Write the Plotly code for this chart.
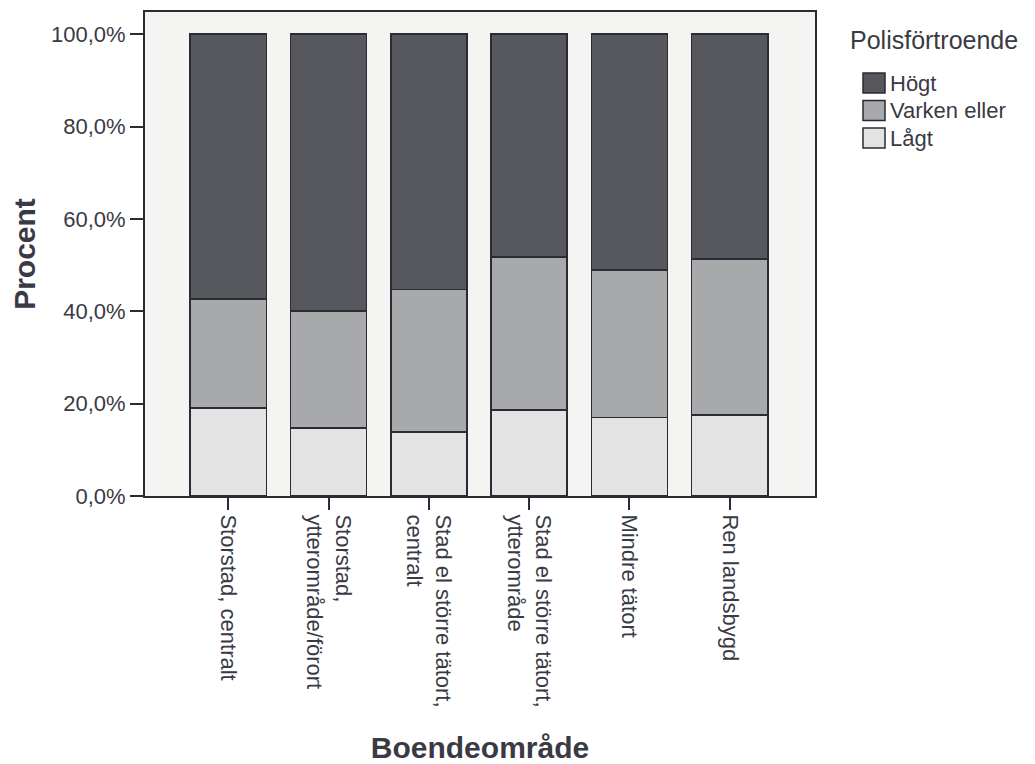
import plotly.graph_objects as go

categories = [
    "Storstad, centralt",
    "Storstad,<br>ytterområde/förort",
    "Stad el större tätort,<br>centralt",
    "Stad el större tätort,<br>ytterområde",
    "Mindre tätort",
    "Ren landsbygd"
]

series_names = ["Lågt", "Varken eller", "Högt"]

lagt = [19.0, 14.7, 13.8, 18.6, 17.0, 17.5]
varken = [23.7, 25.3, 30.9, 33.1, 32.0, 33.8]
hogt = [57.3, 60.0, 55.3, 48.3, 51.0, 48.7]

y_ticks = [0, 20, 40, 60, 80, 100]
y_tick_labels = ["0,0%", "20,0%", "40,0%", "60,0%", "80,0%", "100,0%"]

colors = ["#e3e3e3", "#a8a9aa", "#56585d"]
outline = "#2b2b35"
text_color = "#3a3a44"
font_family = "Liberation Sans, Arial, sans-serif"

# the page body adds an 8px margin, so the figure is made that much smaller
offset = 8
fig_w, fig_h = 1035 - offset, 764 - offset
left, top, width, height = 145 - offset, 12 - offset, 670, 484

fig = go.Figure()

for name, values, color in zip(series_names, [lagt, varken, hogt], colors):
    fig.add_trace(
        go.Bar(
            x=categories,
            y=values,
            name=name,
            width=0.76,
            marker=dict(
                color=color,
                line=dict(color=outline, width=1.6)
            ),
            showlegend=False
        )
    )


def px_x(px):
    return (px - offset - left) / width


def px_y(py):
    return (top + height - (py - offset)) / height


# Legend drawn by hand so the swatches can be as big as in the original
legend_rows = [(series_names[2], colors[2], 83), (series_names[1], colors[1], 110.5), (series_names[0], colors[0], 138)]

for name, color, cy in legend_rows:
    fig.add_shape(
        type="rect",
        xref="paper", yref="paper",
        x0=px_x(863), x1=px_x(885),
        y0=px_y(cy + 10), y1=px_y(cy - 10),
        fillcolor=color,
        line=dict(color=outline, width=1.5)
    )
    fig.add_annotation(
        xref="paper", yref="paper",
        x=px_x(888), y=px_y(cy),
        xanchor="left", yanchor="middle",
        text=name, showarrow=False,
        font=dict(size=22, color=text_color, family=font_family)
    )

fig.add_annotation(
    xref="paper", yref="paper",
    x=px_x(848), y=px_y(40),
    xanchor="left", yanchor="middle",
    text="Polisförtroende", showarrow=False,
    font=dict(size=25, color=text_color, family=font_family)
)

fig.update_layout(
    template="none",
    barmode="stack",
    width=fig_w,
    height=fig_h,
    margin=dict(l=left, r=fig_w - left - width, t=top, b=fig_h - top - height),
    paper_bgcolor="white",
    plot_bgcolor="#f4f4f2",
    font=dict(family=font_family, color=text_color, size=22),
    xaxis=dict(
        automargin=False,
        range=[-0.83, 5.85],
        tickangle=90,
        ticks="outside",
        ticklen=12,
        tickwidth=2,
        tickcolor=outline,
        showline=True,
        linewidth=2,
        linecolor=outline,
        mirror=True,
        showgrid=False,
        tickfont=dict(size=22),
        title=dict(
            text="<b>Boendeområde</b>",
            font=dict(size=30),
            standoff=30
        )
    ),
    yaxis=dict(
        automargin=False,
        range=[0, 104.8],
        tickvals=y_ticks,
        ticktext=y_tick_labels,
        ticks="outside",
        ticklen=13,
        tickwidth=2,
        tickcolor=outline,
        showline=True,
        linewidth=2,
        linecolor=outline,
        mirror=True,
        showgrid=False,
        zeroline=False,
        tickfont=dict(size=22),
        title=dict(
            text="<b>Procent</b>",
            font=dict(size=30),
            standoff=16
        )
    )
)

fig.write_html("out.html")
